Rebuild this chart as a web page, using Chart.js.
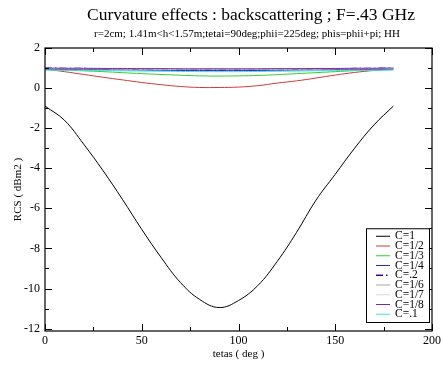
<!DOCTYPE html>
<html>
<head>
<meta charset="utf-8">
<script src="https://cdn.jsdelivr.net/npm/chart.js@4.4.1/dist/chart.umd.min.js"></script>
<style>
  html, body { margin: 0; padding: 0; background: #fff; }
  #wrap { width: 444px; height: 365px; }
</style>
</head>
<body>
<div id="wrap"><canvas id="chart" width="444" height="365"></canvas></div>
<script>
// titles
const titleText = "Curvature effects : backscattering ; F=.43 GHz";
const subtitleText = "r=2cm; 1.41m<h<1.57m;tetai=90deg;phii=225deg; phis=phii+pi; HH";

// x values (tetas, deg) and one array per curve (RCS, dBm2)
const tetas = [0, 10, 20, 30, 40, 50, 60, 70, 80, 90, 100, 110, 120, 130, 140, 150, 160, 170, 180];
const c1   = [-0.9, -1.6, -2.8, -4.12, -5.55, -7.05, -8.45, -9.7, -10.55, -10.95, -10.6, -9.85, -8.65, -7.2, -5.6, -4.3, -3.0, -1.84, -0.9];
const c1_2 = [0.95, 0.82, 0.68, 0.54, 0.41, 0.28, 0.17, 0.08, 0.03, 0.03, 0.05, 0.12, 0.25, 0.36, 0.5, 0.65, 0.78, 0.88, 0.97];
const c1_3 = [0.92, 0.9, 0.86, 0.82, 0.77, 0.72, 0.68, 0.64, 0.61, 0.6, 0.61, 0.63, 0.67, 0.72, 0.77, 0.82, 0.87, 0.9, 0.92];
const c1_4 = [0.95, 0.94, 0.93, 0.92, 0.91, 0.9, 0.89, 0.88, 0.87, 0.87, 0.87, 0.88, 0.89, 0.9, 0.91, 0.92, 0.93, 0.94, 0.95];
const c0_2 = [0.99, 0.98, 0.97, 0.96, 0.95, 0.94, 0.93, 0.93, 0.92, 0.92, 0.92, 0.93, 0.93, 0.94, 0.95, 0.96, 0.97, 0.98, 0.99];
const c1_6 = [0.97, 0.97, 0.96, 0.96, 0.95, 0.95, 0.94, 0.94, 0.94, 0.94, 0.94, 0.94, 0.94, 0.95, 0.95, 0.96, 0.96, 0.97, 0.97];
const c1_7 = [0.98, 0.98, 0.97, 0.97, 0.96, 0.96, 0.95, 0.95, 0.95, 0.95, 0.95, 0.95, 0.95, 0.96, 0.96, 0.97, 0.97, 0.98, 0.98];
const c1_8 = [1.0, 0.99, 0.99, 0.98, 0.98, 0.97, 0.97, 0.96, 0.96, 0.96, 0.96, 0.96, 0.97, 0.97, 0.98, 0.98, 0.99, 0.99, 1.0];
const c0_1 = [0.9, 0.89, 0.88, 0.87, 0.86, 0.85, 0.84, 0.83, 0.82, 0.82, 0.82, 0.83, 0.84, 0.85, 0.86, 0.87, 0.88, 0.89, 0.9];

const labels = ["C=1", "C=1/2", "C=1/3", "C=1/4", "C=.2", "C=1/6", "C=1/7", "C=1/8", "C=.1"];
const colors = ["#000000", "#d03a3a", "#30d030", "#2a2ad0", "#4a0090", "#a8a8a8", "#d8d8d8", "#7a2aa8", "#40e0d0"];
const dashes = [[], [], [], [], [7, 3, 1.5, 3], [], [], [], []];
const series = [c1, c1_2, c1_3, c1_4, c0_2, c1_6, c1_7, c1_8, c0_1];

// axis ticks
const xMajor = [0, 50, 100, 150, 200];
const xMinor = [25, 75, 125, 175];
const yMajor = [-12, -10, -8, -6, -4, -2, 0, 2];
const yMinor = [-11, -9, -7, -5, -3, -1, 1];

const serif = "'Liberation Serif', 'DejaVu Serif', serif";

// frame with inward ticks on all four sides
const framePlugin = {
  id: "frame",
  afterDraw(chart) {
    const { ctx, chartArea: a, scales: { x, y } } = chart;
    ctx.save();
    ctx.strokeStyle = "#000";
    ctx.lineWidth = 1.2;
    ctx.strokeRect(a.left, a.top, a.right - a.left, a.bottom - a.top);
    ctx.lineWidth = 1;
    ctx.beginPath();
    const xt = (v, len) => {
      const px = Math.round(x.getPixelForValue(v)) + 0.5;
      ctx.moveTo(px, a.bottom); ctx.lineTo(px, a.bottom - len);
      ctx.moveTo(px, a.top); ctx.lineTo(px, a.top + len);
    };
    const yt = (v, len) => {
      const py = Math.round(y.getPixelForValue(v)) + 0.5;
      ctx.moveTo(a.left, py); ctx.lineTo(a.left + len, py);
      ctx.moveTo(a.right, py); ctx.lineTo(a.right - len, py);
    };
    xMajor.forEach(v => xt(v, 7));
    xMinor.forEach(v => xt(v, 4));
    yMajor.forEach(v => yt(v, 7));
    yMinor.forEach(v => yt(v, 4));
    ctx.stroke();
    ctx.restore();
  }
};

// titles above the plot
const titlePlugin = {
  id: "titles",
  afterDraw(chart) {
    const ctx = chart.ctx;
    const cx = chart.width / 2 + 29;
    ctx.save();
    ctx.fillStyle = "#000";
    ctx.textAlign = "center";
    ctx.textBaseline = "middle";
    ctx.font = "17.5px " + serif;
    ctx.fillText(titleText, cx, 15);
    ctx.font = "11px " + serif;
    ctx.fillText(subtitleText, cx - 4, 34);
    ctx.restore();
  }
};

// boxed legend in the lower right of the plot
const legendPlugin = {
  id: "boxLegend",
  afterDraw(chart) {
    const { ctx, chartArea: a } = chart;
    const rowH = 9.75;
    const w = 63, h = rowH * labels.length + 6;
    const right = a.right - 3, bottom = a.bottom - 9;
    const left = right - w, top = bottom - h;
    ctx.save();
    ctx.fillStyle = "#fff";
    ctx.fillRect(left, top, w, h);
    ctx.strokeStyle = "#000";
    ctx.lineWidth = 1;
    ctx.strokeRect(left + 0.5, top + 0.5, w, h);
    ctx.font = "11.5px " + serif;
    ctx.textBaseline = "middle";
    ctx.textAlign = "left";
    labels.forEach((lab, i) => {
      const ly = top + 8 + i * rowH;
      ctx.strokeStyle = colors[i];
      ctx.lineWidth = i === 4 ? 1.6 : 1;
      ctx.setLineDash(dashes[i]);
      ctx.beginPath();
      ctx.moveTo(left + 10, ly);
      ctx.lineTo(left + 24, ly);
      ctx.stroke();
      ctx.setLineDash([]);
      ctx.fillStyle = "#000";
      ctx.fillText(lab, left + 29, ly);
    });
    ctx.restore();
  }
};

const datasets = series.map((s, i) => ({
  label: labels[i],
  data: tetas.map((t, j) => ({ x: t, y: s[j] })),
  borderColor: colors[i],
  borderWidth: i === 4 ? 1.6 : 1,
  borderDash: dashes[i],
  pointRadius: 0,
  fill: false,
  tension: 0.4
}));

new Chart(document.getElementById("chart"), {
  type: "line",
  data: { datasets: datasets.slice().reverse() },
  options: {
    responsive: false,
    animation: false,
    devicePixelRatio: 1,
    layout: { padding: { top: 48, right: 0, left: 0, bottom: 0 } },
    plugins: { legend: { display: false }, tooltip: { enabled: false } },
    scales: {
      x: {
        type: "linear",
        min: 0, max: 200,
        grid: { display: false, drawTicks: false },
        border: { display: false },
        afterBuildTicks: s => { s.ticks = xMajor.map(v => ({ value: v })); },
        afterFit: s => { s.height = 34; },
        ticks: { color: "#000", font: { family: serif, size: 12 }, padding: 3, maxRotation: 0 },
        title: { display: true, text: "tetas ( deg )", color: "#000", font: { family: serif, size: 11 }, padding: { top: 0 } }
      },
      y: {
        type: "linear",
        min: -12.12, max: 2,
        grid: { display: false, drawTicks: false },
        border: { display: false },
        afterBuildTicks: s => { s.ticks = yMajor.map(v => ({ value: v })); },
        afterFit: s => { s.width = 45; },
        ticks: { color: "#000", font: { family: serif, size: 12 }, padding: 5 },
        title: { display: true, text: "RCS ( dBm2 )", color: "#000", font: { family: serif, size: 11 }, padding: { top: 12 } }
      }
    }
  },
  plugins: [framePlugin, titlePlugin, legendPlugin]
});
</script>
</body>
</html>
